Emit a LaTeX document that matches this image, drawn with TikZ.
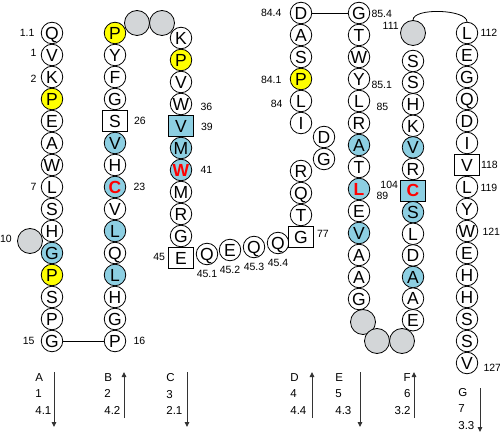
\documentclass[tikz,border=0pt]{standalone}
\usepackage{fontspec}
\setmainfont{Liberation Sans}
\usetikzlibrary{arrows.meta, positioning}
\definecolor{cyel}{HTML}{FFFF00}
\definecolor{cblu}{HTML}{8DCFE2}
\definecolor{cgap}{HTML}{D3D6D8}
\tikzset{
  every picture/.style={line width=0.8pt},
  res/.style={circle, draw, fill=white, minimum size=21.5pt, inner sep=0pt, text height=12.5pt, text depth=0pt, font=\fontsize{17.5}{17.5}\selectfont},
  pl/.style={},
  yel/.style={fill=cyel},
  blu/.style={fill=cblu},
  hot/.style={text=red, font=\fontsize{17.5}{17.5}\selectfont\bfseries},
  bluhot/.style={blu, hot},
  sq/.style={rectangle, minimum width=24.5pt, minimum height=21pt},
  sqblu/.style={sq, blu},
  sqbluhot/.style={sq, blu, hot},
  gap/.style={circle, draw, fill=cgap, minimum size=25pt, inner sep=0pt},
  num/.style={font=\fontsize{10.5}{10.5}\selectfont, inner sep=0pt, text height=7.5pt, text depth=0pt},
  leg/.style={font=\fontsize{11.5}{16.5}\selectfont, inner sep=0pt},
  legarrow/.style={-{Triangle[length=5pt, width=4.5pt]}, draw=black!80, line width=0.9pt},
}

\begin{document}
\begin{tikzpicture}[x=1pt, y=-1pt]
  \useasboundingbox (0,0) rectangle (500,435);
  % grey gaps
  \node[gap] (gA) at (30,241) {};
  \node[gap] (gB1) at (137,23) {};
  \node[gap] (gB2) at (162,23) {};
  \node[gap] (t111) at (413,33) {};
  \node[gap] (gE1) at (363,322) {};
  \node[gap] (gE2) at (377,341) {};
  \node[gap] (gE3) at (402,341) {};
  % strand A
  \foreach \r/\s [count=\i from 0] in {Q/pl, V/pl, K/pl, P/yel, E/pl, A/pl, W/pl, L/pl, S/pl, H/pl, G/blu, P/yel, S/pl, P/pl, G/pl}
    \node[res, \s] (a\i) at (52, 33+22*\i) {\r};
  \node[num, left=6pt of a0] {1.1};
  \node[num, left=4pt of a1, yshift=2pt] {1};
  \node[num, left=4pt of a2, yshift=-2pt] {2};
  \node[num, left=4pt of a7] {7};
  \node[num, left=5pt of gA, yshift=2pt] {10};
  \node[num, left=6pt of a14] {15};
  % strand B
  \foreach \r/\s [count=\i from 0] in {P/yel, Y/pl, F/pl, G/pl, S/sq, V/blu, H/pl, C/bluhot, V/pl, L/blu, Q/pl, L/blu, H/pl, G/pl, P/pl}
    \node[res, \s] (b\i) at (115, 33+22*\i) {\r};
  \node[num, right=6pt of b4] {26};
  \node[num, right=7pt of b7] {23};
  \node[num, right=7pt of b14] {16};
  \draw (a14) -- (b14);
  % strand C
  \foreach \r/\s [count=\i from 0] in {K/pl, P/yel, V/pl, W/pl, V/sqblu, M/blu, W/bluhot, M/pl, R/pl, G/pl, E/sq}
    \node[res, \s] (c\i) at (181, 38+22*\i) {\r};
  \node[num, right=8pt of c3, yshift=-3pt] {36};
  \node[num, right=7pt of c4, yshift=-1pt] {39};
  \node[num, right=8pt of c6] {41};
  \node[num, left=3pt of c10, yshift=1pt] {45};
  % loop 45.x
  \foreach \r/\px/\py/\n [count=\i] in {Q/207/254/45.1, E/230/250/45.2, Q/254/247/45.3, Q/278/243/45.4}
    \node[res] (h\i) at (\px,\py) {\r} node[num, below=4pt of h\i] {\n};
  % strand D
  \foreach \r/\s/\px/\py [count=\i] in {D/pl/324/137, G/pl/324/159, R/pl/301/171, Q/pl/301/193, T/pl/301/215, G/sq/301/237}
    \node[res, \s] (m\i) at (\px,\py) {\r};
  \node[num, right=3pt of m6, yshift=3pt] {77};
  \foreach \r/\s [count=\i from 0] in {D/pl, A/pl, S/pl, P/yel, L/pl, I/pl}
    \node[res, \s] (d\i) at (301, 13+22*\i) {\r};
  \node[num, left=8pt of d0] {84.4};
  \node[num, left=8pt of d3, yshift=-1pt] {84.1};
  \node[num, left=7pt of d4, yshift=-3pt] {84};
  % strand E
  \foreach \r/\s [count=\i from 0] in {G/pl, T/pl, W/pl, Y/pl, L/pl, R/pl, A/blu, T/pl, L/bluhot, E/pl, V/blu, A/pl, A/pl, G/pl}
    \node[res, \s] (e\i) at (359, 13+22*\i) {\r};
  \draw (d0) -- (e0);
  \node[num, right=1pt of e0, yshift=-1pt] {85.4};
  \node[num, right=1pt of e3, yshift=-6pt] {85.1};
  \node[num, right=6pt of e4, yshift=-6pt] {85};
  \node[num, right=6pt of e8, yshift=-7pt] {89};
  % strand F
  \foreach \r/\s [count=\i from 0] in {S/pl, S/pl, H/pl, K/pl, V/blu, R/pl, C/sqbluhot, S/blu, L/pl, D/pl, A/blu, A/pl, E/pl}
    \node[res, \s] (f\i) at (413, 61+21.6*\i) {\r};
  \node[num, left=2pt of f6, yshift=5.5pt] {104};
  \node[num, left=1pt of t111, yshift=7pt] {111};
  % strand G
  \foreach \r/\s [count=\i from 0] in {L/pl, E/pl, G/pl, Q/pl, D/pl, I/pl, V/sq, L/pl, Y/pl, W/pl, E/pl, H/pl, H/pl, S/pl, S/pl, V/pl}
    \node[res, \s] (g\i) at (467, 33+22*\i) {\r};
  \draw (t111.north) to[out=90, in=90, looseness=0.6] (g0.north);
  \node[num, right=2pt of g0] {112};
  \node[num, right=1pt of g6] {118};
  \node[num, right=2pt of g7, yshift=-1pt] {119};
  \node[num, right=4pt of g9, yshift=-1pt] {121};
  \node[num, right=5pt of g15, yshift=-5pt] {127};
  % legend
  \foreach \n/\px/\s/\e in {A/54/372/427, B/124/418/372, C/187/372/427, D/312/418/372, E/360/372/427, F/414/418/372, G/480/388/432} {
    \coordinate (s\n) at (\px,\s);
    \coordinate (e\n) at (\px,\e);
    \draw[legarrow] (s\n) -- (e\n);
  }
  \foreach \n/\px/\k/\t in {A/35/1/4.1, B/104/2/4.2, C/166/3/2.1, D/290/4/4.4, E/335/5/4.3}
    \node[leg, align=left, anchor=west] (l\n) at (\px,394) {\n\\\k\\\t};
  \node[leg, align=right, anchor=east] (lF) at (411,394) {F\\6\\3.2};
  \node[leg, align=left, anchor=west] (lG) at (458,409) {G\\7\\3.3};
\end{tikzpicture}
\end{document}
